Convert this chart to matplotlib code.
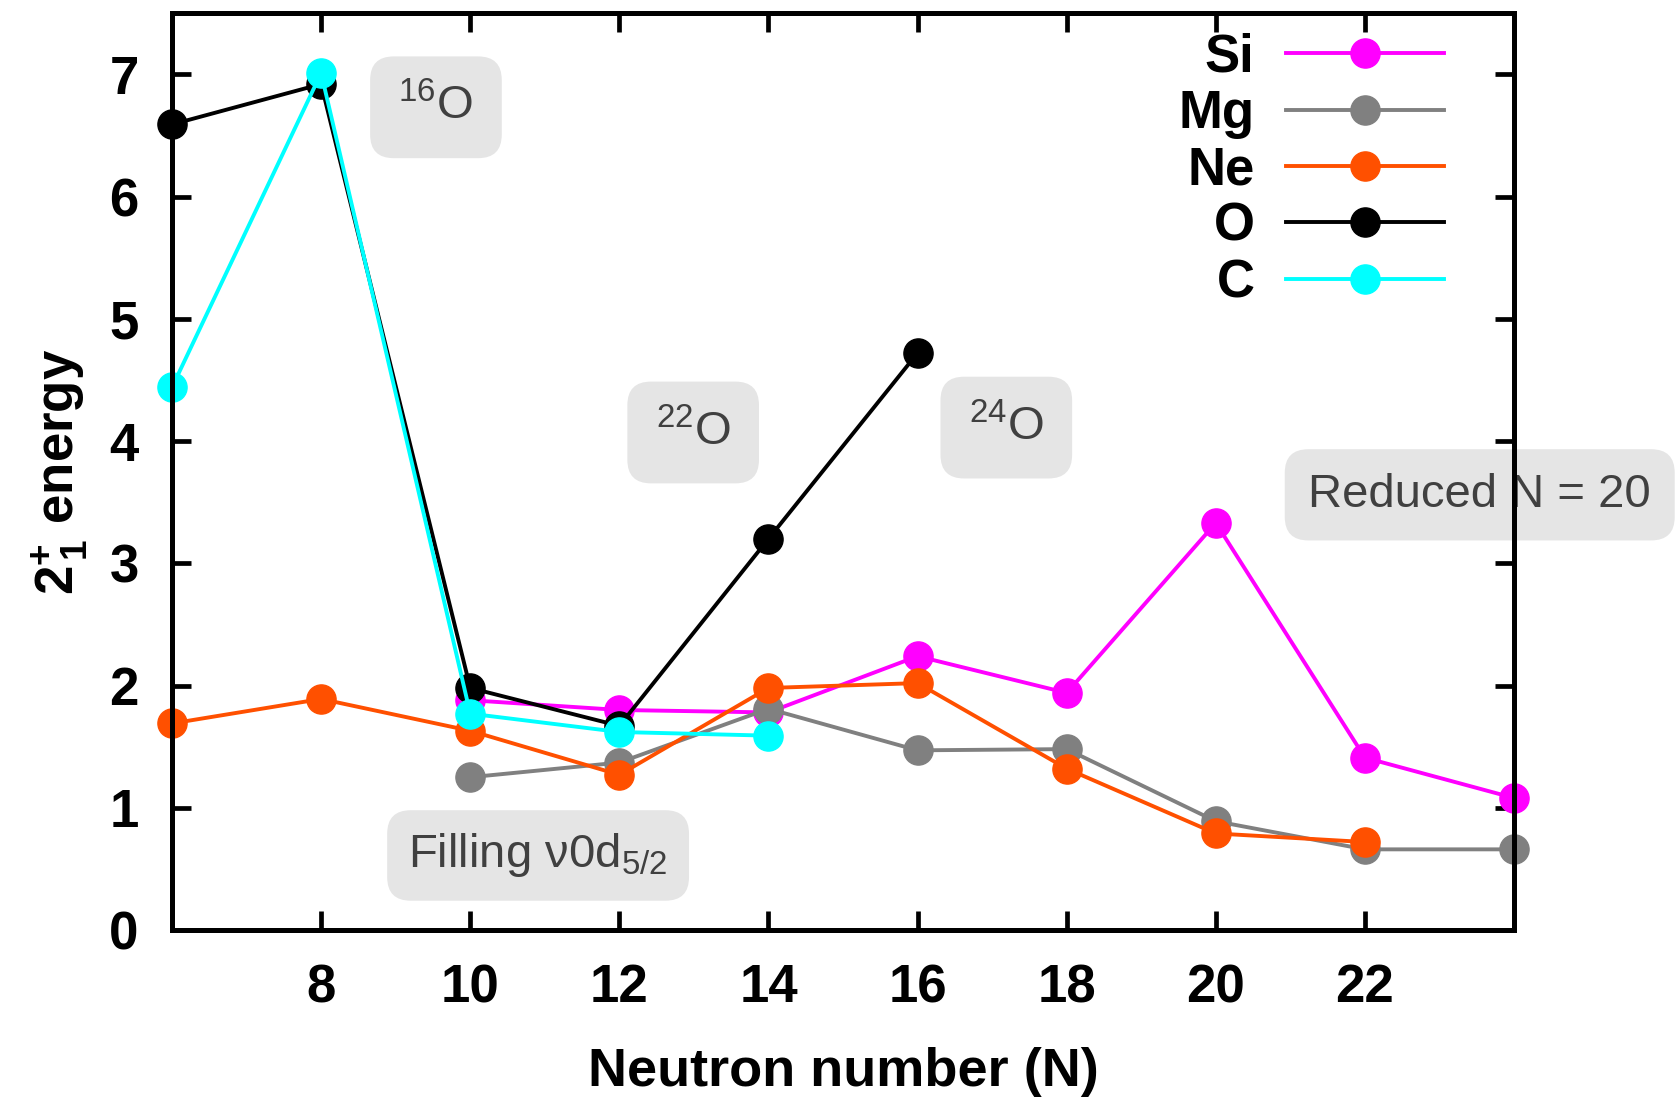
import matplotlib
matplotlib.use("Agg")
import matplotlib.pyplot as plt

plt.rcParams['font.family'] = ['Liberation Sans', 'DejaVu Sans']
plt.rcParams['mathtext.fontset'] = 'custom'
plt.rcParams['mathtext.rm'] = 'Liberation Sans'
plt.rcParams['mathtext.bf'] = 'Liberation Sans:bold'
plt.rcParams['mathtext.it'] = 'Liberation Sans:italic'

# ---- data ----
N_si = [10, 12, 14, 16, 18, 20, 22, 24]
E_si = [1.88, 1.80, 1.78, 2.24, 1.94, 3.33, 1.41, 1.08]
N_mg = [10, 12, 14, 16, 18, 20, 22, 24]
E_mg = [1.25, 1.37, 1.81, 1.47, 1.48, 0.89, 0.66, 0.66]
N_ne = [6, 8, 10, 12, 14, 16, 18, 20, 22]
E_ne = [1.69, 1.89, 1.63, 1.27, 1.98, 2.02, 1.32, 0.79, 0.72]
N_o = [6, 8, 10, 12, 14, 16]
E_o = [6.59, 6.92, 1.98, 1.67, 3.20, 4.72]
N_c = [6, 8, 10, 12, 14]
E_c = [4.44, 7.01, 1.77, 1.62, 1.59]

series = [("Si", N_si, E_si, "#ff00ff"),
          ("Mg", N_mg, E_mg, "#808080"),
          ("Ne", N_ne, E_ne, "#ff5000"),
          ("O", N_o, E_o, "#000000"),
          ("C", N_c, E_c, "#00ffff")]

xticks = [8, 10, 12, 14, 16, 18, 20, 22]
yticks = [0, 1, 2, 3, 4, 5, 6, 7]

note_texts = ["$^{16}$O", "$^{22}$O", "$^{24}$O", "Reduced N = 20",
              "Filling ν0d$_{5/2}$"]
note_x = [9.54, 12.99, 17.19, 23.54, 10.91]
note_y = [6.73, 4.07, 4.11, 3.56, 0.61]

fig = plt.figure(figsize=(16.75, 10.97), dpi=100)
ax = fig.add_axes([0.1027, 0.1522, 0.9039 - 0.1027, 0.988 - 0.1522])

for name, xs, ys, col in series:
    ax.plot(xs, ys, color=col, lw=2.8, marker='o', ms=21, label=name,
            clip_on=False, zorder=3)

ax.set_xlim(6, 24)
ax.set_ylim(0, 7.5)
ax.set_xticks(xticks)
ax.set_yticks(yticks)
ax.tick_params(direction='in', length=14, width=3.4, top=True, right=True,
               labelsize=38, pad=24)
for lab in ax.get_xticklabels() + ax.get_yticklabels():
    lab.set_fontweight('bold')
for sp in ax.spines.values():
    sp.set_linewidth(3.6)
    sp.set_zorder(10)

ax.set_xlabel("Neutron number (N)", fontsize=39, fontweight='bold', labelpad=24)
ax.set_ylabel("$\\mathbf{2^{+}_{\\,1}}$ energy", fontsize=38, fontweight='bold',
              labelpad=14)

pads = [0.6, 0.6, 0.6, 0.5, 0.45]
for txt, x, y, p in zip(note_texts, note_x, note_y, pads):
    ax.text(x, y, txt, fontsize=34, color='#404040', ha='center', va='center',
            zorder=6, clip_on=False,
            bbox=dict(boxstyle=f'round,pad={p},rounding_size=0.5',
                      fc='#e5e5e5', ec='none'))

leg = ax.legend(loc='upper right', bbox_to_anchor=(0.956, 0.99), frameon=False,
                markerfirst=False, prop={'weight': 'bold', 'size': 38},
                handlelength=3.0, handletextpad=0.6, labelspacing=0.12,
                borderaxespad=0.2, borderpad=0)

fig.savefig("out.png", dpi=100)
